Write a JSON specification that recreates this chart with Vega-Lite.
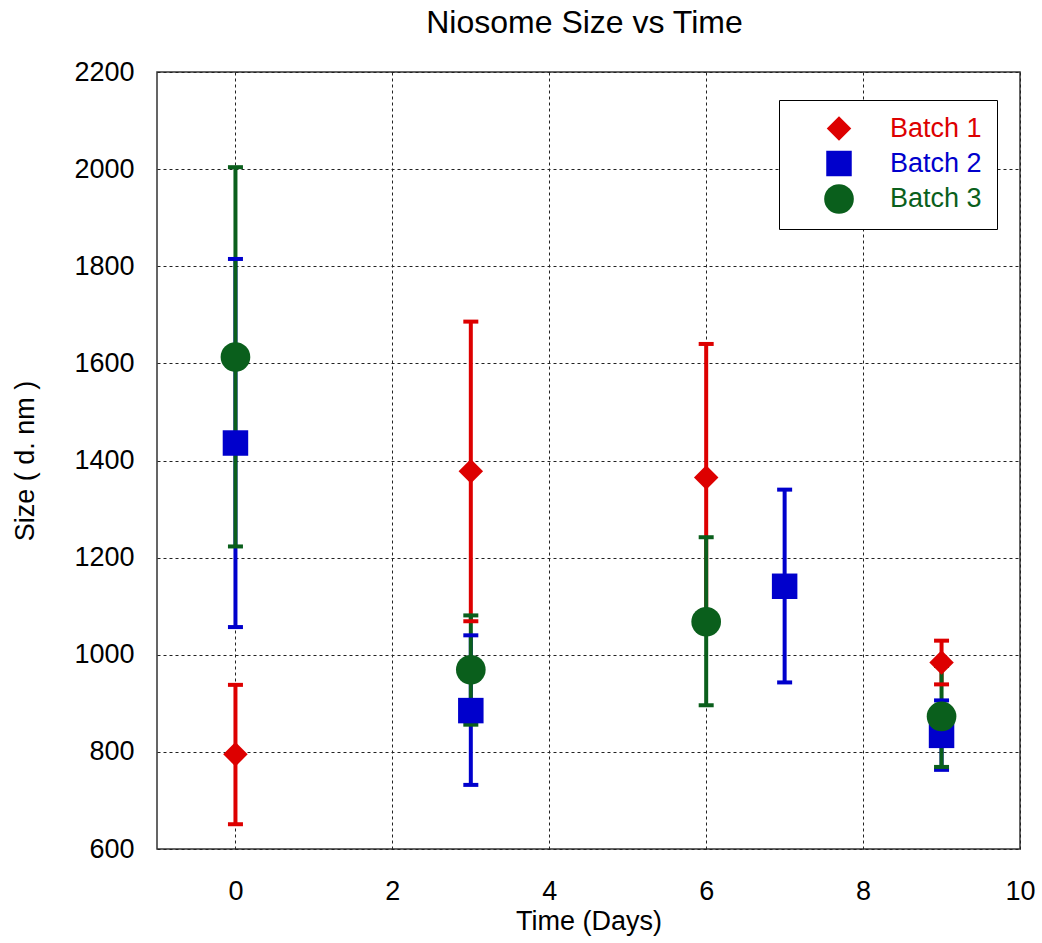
{
  "$schema": "https://vega.github.io/schema/vega-lite/v6.json",
  "width": 863,
  "height": 777,
  "autosize": {"type": "none"},
  "padding": {"left": 157, "top": 72, "right": 22, "bottom": 94},
  "background": "white",
  "title": {"text": "Niosome Size vs Time", "fontSize": 32, "font": "Liberation Sans", "fontWeight": "normal", "color": "black", "frame": "group", "anchor": "middle", "offset": 18, "dx": -4},
  "config": {
    "font": "Liberation Sans",
    "view": {"stroke": "#333", "strokeWidth": 1.5},
    "axis": {"grid": true, "gridColor": "#222", "gridDash": [3, 3], "gridWidth": 1, "gridOpacity": 1, "domain": false, "ticks": false, "tickSize": 0, "labelFont": "Liberation Sans", "labelFontSize": 27, "labelColor": "black", "titleFont": "Liberation Sans", "titleFontSize": 27, "titleFontWeight": "normal", "titleColor": "black"}
  },
  "data": {"values": [
    {"time": 0, "batch": "Batch 1", "mean": 795, "lo": 651, "hi": 938},
    {"time": 0, "batch": "Batch 2", "mean": 1436, "lo": 1057, "hi": 1815},
    {"time": 0, "batch": "Batch 3", "mean": 1613, "lo": 1223, "hi": 2004},
    {"time": 3, "batch": "Batch 1", "mean": 1378, "lo": 1069, "hi": 1686},
    {"time": 3, "batch": "Batch 2", "mean": 885, "lo": 732, "hi": 1040},
    {"time": 3, "batch": "Batch 3", "mean": 969, "lo": 856, "hi": 1081},
    {"time": 6, "batch": "Batch 1", "mean": 1365, "lo": 1090, "hi": 1640},
    {"time": 6, "batch": "Batch 3", "mean": 1068, "lo": 896, "hi": 1242},
    {"time": 7, "batch": "Batch 2", "mean": 1141, "lo": 943, "hi": 1340},
    {"time": 9, "batch": "Batch 1", "mean": 984, "lo": 939, "hi": 1029},
    {"time": 9, "batch": "Batch 2", "mean": 834, "lo": 763, "hi": 906},
    {"time": 9, "batch": "Batch 3", "mean": 873, "lo": 769, "hi": 977}
  ]},
  "layer": [
    {
      "mark": {"type": "rule", "strokeWidth": 4},
      "encoding": {
        "x": {"field": "time", "type": "quantitative", "scale": {"domain": [-1, 10], "nice": false, "zero": false}, "axis": {"values": [0, 2, 4, 6, 8, 10], "format": "d", "title": "Time (Days)", "labelPadding": 29, "titlePadding": 4, "labelFlush": false}},
        "y": {"field": "lo", "type": "quantitative", "scale": {"domain": [600, 2200], "nice": false, "zero": false}, "axis": {"values": [600, 800, 1000, 1200, 1400, 1600, 1800, 2000, 2200], "format": "d", "title": "Size ( d. nm )", "labelPadding": 23, "titlePadding": 34, "labelFlush": false}},
        "y2": {"field": "hi"},
        "stroke": {"field": "batch", "type": "nominal", "scale": {"domain": ["Batch 1", "Batch 2", "Batch 3"], "range": ["#dd0000", "#0000cc", "#0a5f1c"]}, "legend": null}
      }
    },
    {
      "mark": {"type": "tick", "orient": "horizontal", "size": 15, "thickness": 4, "opacity": 1},
      "encoding": {
        "x": {"field": "time", "type": "quantitative"},
        "y": {"field": "lo", "type": "quantitative"},
        "fill": {"field": "batch", "type": "nominal", "scale": {"domain": ["Batch 1", "Batch 2", "Batch 3"], "range": ["#dd0000", "#0000cc", "#0a5f1c"]}, "legend": null}
      }
    },
    {
      "mark": {"type": "tick", "orient": "horizontal", "size": 15, "thickness": 4, "opacity": 1},
      "encoding": {
        "x": {"field": "time", "type": "quantitative"},
        "y": {"field": "hi", "type": "quantitative"},
        "fill": {"field": "batch", "type": "nominal", "legend": null}
      }
    },
    {
      "mark": {"type": "point", "filled": true, "opacity": 1, "strokeWidth": 0},
      "encoding": {
        "x": {"field": "time", "type": "quantitative"},
        "y": {"field": "mean", "type": "quantitative"},
        "color": {"field": "batch", "type": "nominal", "scale": {"range": ["#dd0000", "#0000cc", "#0a5f1c"]}, "legend": {"title": null, "orient": "none", "legendX": 622, "legendY": 28, "padding": 15, "symbolOffset": 30, "labelOffset": 36, "rowPadding": 7, "labelFontSize": 27, "labelFont": "Liberation Sans", "labelLimit": 300, "labelColor": {"expr": "scale('color', datum.value)"}, "strokeColor": "black", "fillColor": "white", "symbolStrokeWidth": 0}},
        "shape": {"field": "batch", "type": "nominal", "scale": {"range": ["diamond", "square", "circle"]}},
        "size": {"field": "batch", "type": "nominal", "scale": {"type": "ordinal", "range": [600, 650, 880]}}
      }
    }
  ]
}
